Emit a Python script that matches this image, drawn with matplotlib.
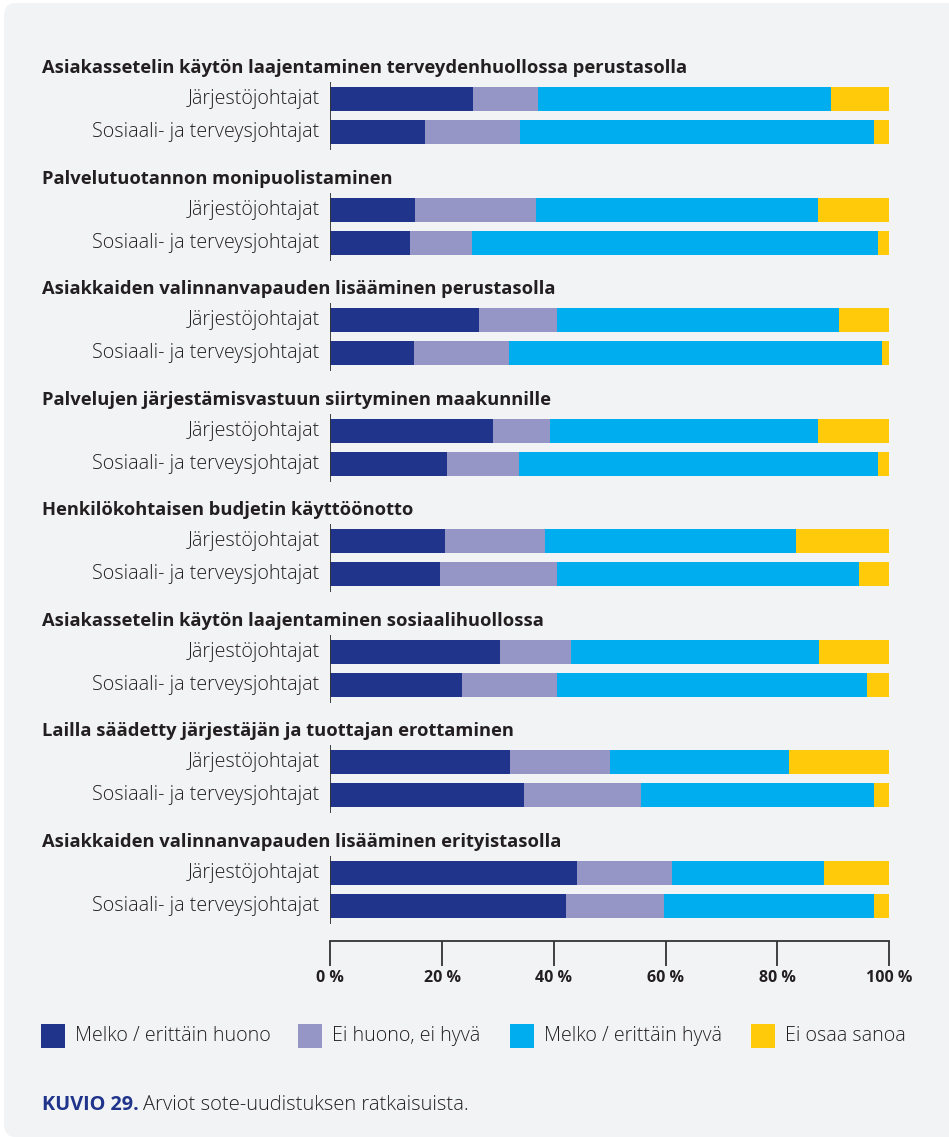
import matplotlib.pyplot as plt
from matplotlib.patches import FancyBboxPatch, Rectangle

plt.rcParams['font.family'] = ['Open Sans', 'DejaVu Sans']

questions = [
    "Asiakassetelin käytön laajentaminen terveydenhuollossa perustasolla",
    "Palvelutuotannon monipuolistaminen",
    "Asiakkaiden valinnanvapauden lisääminen perustasolla",
    "Palvelujen järjestämisvastuun siirtyminen maakunnille",
    "Henkilökohtaisen budjetin käyttöönotto",
    "Asiakassetelin käytön laajentaminen sosiaalihuollossa",
    "Lailla säädetty järjestäjän ja tuottajan erottaminen",
    "Asiakkaiden valinnanvapauden lisääminen erityistasolla",
]
groups = ["Järjestöjohtajat", "Sosiaali- ja terveysjohtajat"]
categories = ["Melko / erittäin huono", "Ei huono, ei hyvä",
              "Melko / erittäin hyvä", "Ei osaa sanoa"]
colors = ["#1f348a", "#9696c6", "#00aeef", "#ffca0a"]

# Järjestöjohtajat
huono_j = [25.6, 15.2, 26.6, 29.1, 20.5, 30.4, 32.2, 44.2]
neutral_j = [11.6, 21.6, 14.0, 10.2, 17.9, 12.7, 17.9, 17.0]
hyva_j = [52.4, 50.5, 50.5, 48.0, 45.0, 44.4, 32.0, 27.2]
eos_j = [10.4, 12.7, 8.9, 12.7, 16.6, 12.5, 17.9, 11.6]
# Sosiaali- ja terveysjohtajat
huono_s = [17.0, 14.2, 15.0, 20.9, 19.6, 23.6, 34.7, 42.2]
neutral_s = [17.0, 11.2, 17.0, 12.9, 21.0, 17.0, 20.9, 17.5]
hyva_s = [63.3, 72.7, 66.7, 64.3, 54.0, 55.5, 41.7, 37.6]
eos_s = [2.7, 1.9, 1.3, 1.9, 5.4, 3.9, 2.7, 2.7]

xticks = [0, 20, 40, 60, 80, 100]

W, H = 949, 1137
fig = plt.figure(figsize=(W / 100, H / 100), dpi=100)
fig.patch.set_facecolor("white")
fig.patches.append(FancyBboxPatch((4 / W, 0), (W + 20) / W, (H - 3) / H,
                                  boxstyle="round,pad=0,rounding_size=0.012",
                                  transform=fig.transFigure, fc="#f2f3f5",
                                  ec="none", zorder=-10))

# axes in pixel-y data units
y_top, y_bot = 45, 941
ax = fig.add_axes([330.3 / W, 1 - y_bot / H, 558.7 / W, (y_bot - y_top) / H])
ax.set_facecolor("none")
ax.set_xlim(0, 100)
ax.set_ylim(y_bot, y_top)

pitch = 110.57
bar_h = 24
txt = "#231f20"
values = [(huono_j, neutral_j, hyva_j, eos_j), (huono_s, neutral_s, hyva_s, eos_s)]

for qi, q in enumerate(questions):
    y0 = 99 + qi * pitch
    ys = [y0, y0 + 33]
    for gi, g in enumerate(groups):
        left = 0
        for ci, col in enumerate(colors):
            v = values[gi][ci][qi]
            ax.barh(ys[gi], v, left=left, height=bar_h, color=col, lw=0)
            left += v
        ax.text(-1.9, ys[gi], g, ha="right", va="center", fontsize=14.2,
                color=txt, fontweight="light")
    ax.vlines(0, ys[0] - 17, ys[1] + 18, color="#333333", lw=1.3)
    ax.text(-51.6, y0 - 31, q, ha="left", va="center", fontsize=13.25,
            fontweight="bold", color=txt)

for s in ["top", "right", "left"]:
    ax.spines[s].set_visible(False)
ax.spines["bottom"].set_color("#333333")
ax.spines["bottom"].set_linewidth(1.3)
ax.set_yticks([])
ax.set_xticks(xticks)
ax.set_xticklabels([f"{t} %" for t in xticks], fontweight="bold", fontsize=11.5,
                   color=txt)
ax.tick_params(axis="x", direction="out", length=18, width=1.3,
               color="#333333", pad=3)

# legend
leg_x = [41, 298, 510, 751]
for lx, lab, col in zip(leg_x, categories, colors):
    fig.patches.append(Rectangle((lx / W, 1 - 1048 / H), 24 / W, 24 / H,
                                 transform=fig.transFigure, fc=col, ec="none"))
    fig.text((lx + 34) / W, 1 - 1036 / H, lab, ha="left", va="center",
             fontsize=14.1, fontweight="light", color=txt)

fig.text(42 / W, 1 - 1105 / H, "KUVIO 29.", ha="left", va="center",
         fontsize=14.3, fontweight="bold", color="#1f348a")
fig.text(143 / W, 1 - 1105 / H, "Arviot sote-uudistuksen ratkaisuista.",
         ha="left", va="center", fontsize=14.5, color=txt, fontweight="light")

fig.savefig("out.png", dpi=100, facecolor=fig.get_facecolor())
